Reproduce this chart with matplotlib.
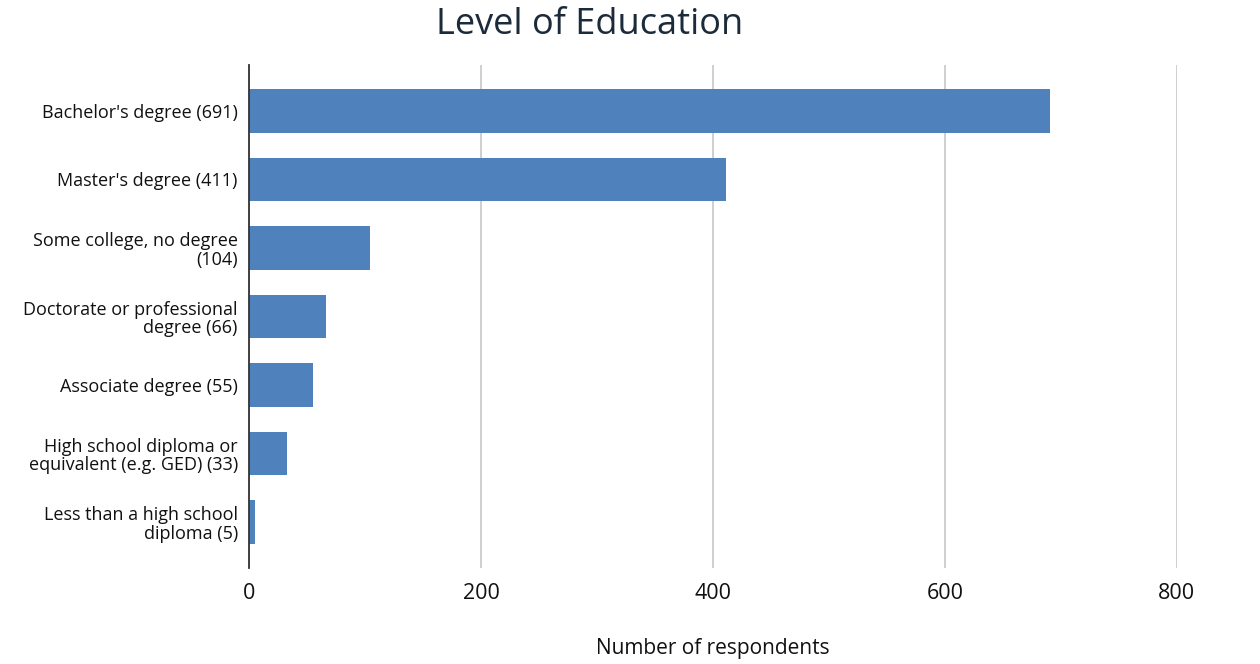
import matplotlib.pyplot as plt

plt.rcParams['font.family'] = ['Open Sans', 'DejaVu Sans']

# Survey data
categories = [
    "Bachelor's degree (691)",
    "Master's degree (411)",
    "Some college, no degree\n(104)",
    "Doctorate or professional\ndegree (66)",
    "Associate degree (55)",
    "High school diploma or\nequivalent (e.g. GED) (33)",
    "Less than a high school\ndiploma (5)",
]
counts = [691, 411, 104, 66, 55, 33, 5]
x_ticks = [0, 200, 400, 600, 800]

fig = plt.figure(figsize=(12.6, 6.64), dpi=100)
ax = fig.add_axes([0.1976, 0.1446, 0.7364, 0.7574])

ypos = list(range(len(categories)))
ax.barh(ypos, counts, height=0.63, color='#4f81bd', zorder=3)

ax.set_ylim(6.67, -0.67)
ax.set_xlim(0, 800)
ax.set_yticks(ypos)
ax.set_yticklabels(categories, fontsize=13, color='#111111', linespacing=1.05)
ax.set_xticks(x_ticks)
ax.set_xticklabels([str(v) for v in x_ticks], fontsize=15.5, color='#111111')
ax.tick_params(axis='both', length=0)
ax.tick_params(axis='x', pad=11)
ax.tick_params(axis='y', pad=8)

ax.grid(axis='x', color='#cccccc', linewidth=1.3, zorder=0)
for side in ['top', 'right', 'bottom']:
    ax.spines[side].set_visible(False)
ax.spines['left'].set_color('#333333')
ax.spines['left'].set_linewidth(1.3)
ax.spines['left'].set_zorder(4)

ax.set_xlabel('Number of respondents', fontsize=15, color='#111111', labelpad=24)
fig.text(0.468, 0.963, 'Level of Education', fontsize=26, color='#1c2b3a',
         ha='center', va='center')

fig.savefig('out.png', dpi=100, facecolor='white')
